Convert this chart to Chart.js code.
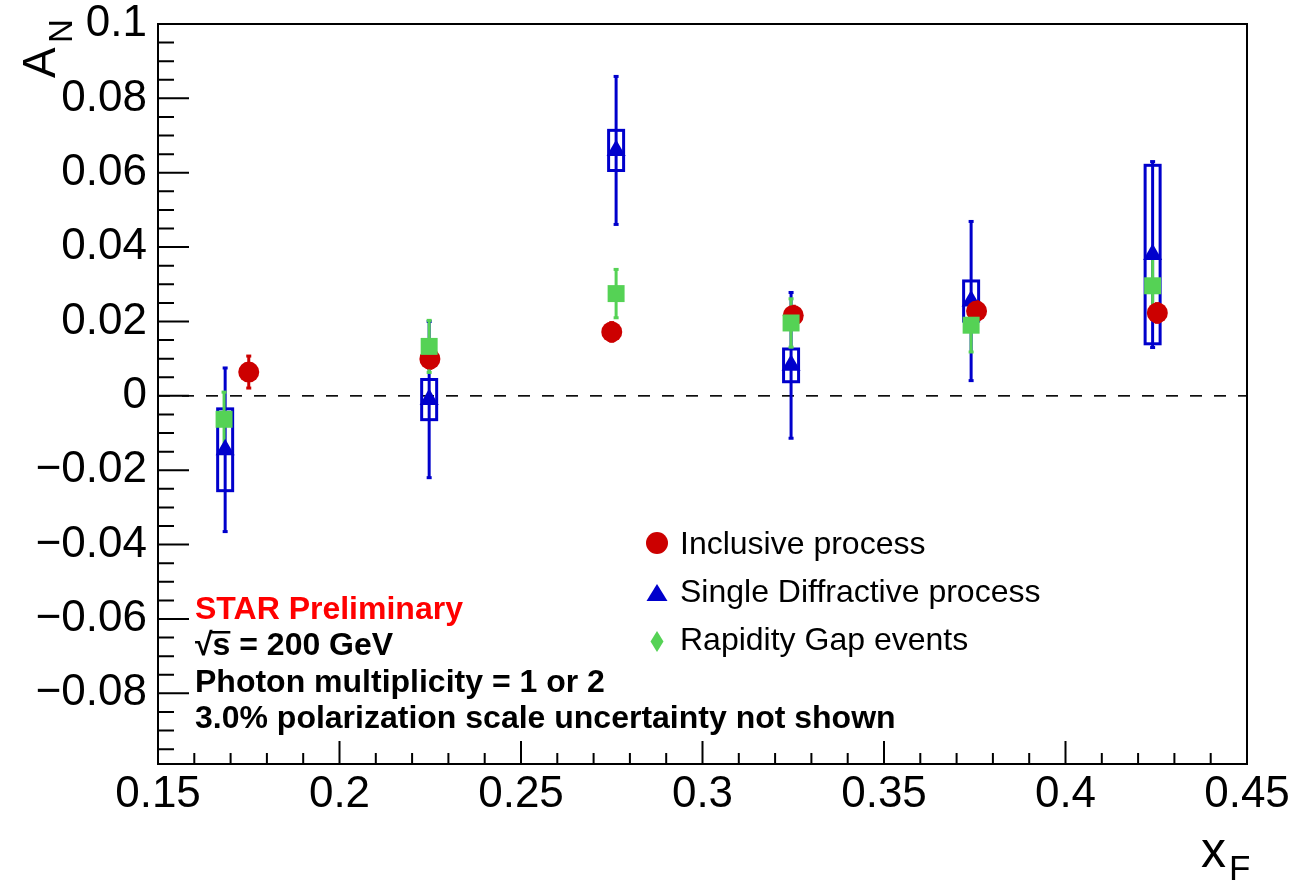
<!DOCTYPE html>
<html>
<head>
<meta charset="utf-8">
<script src="https://cdn.jsdelivr.net/npm/chart.js@4.4.0/dist/chart.umd.min.js"></script>
<style>
  html, body { margin: 0; padding: 0; background: #fff; }
</style>
</head>
<body>
<canvas id="chart" width="1297" height="881"></canvas>
<script>
// axis ticks
const xTicks = [0.15, 0.2, 0.25, 0.3, 0.35, 0.4, 0.45];
const yTicks = [-0.08, -0.06, -0.04, -0.02, 0, 0.02, 0.04, 0.06, 0.08, 0.1];

// Inclusive process (red circles)
const incX = [0.175, 0.2249, 0.275, 0.325, 0.3755, 0.4253];
const incY = [0.0064, 0.0099, 0.0172, 0.0216, 0.0228, 0.0223];
const incErr = [0.0043, 0.0025, 0.0025, 0.0025, 0.0025, 0.0025];

// Single Diffractive process (blue triangles, stat bars + sys boxes)
const sdX = [0.1685, 0.2247, 0.2762, 0.3244, 0.374, 0.424];
const sdY = [-0.0145, -0.001, 0.066, 0.0082, 0.0255, 0.038];
const sdStat = [0.022, 0.021, 0.0199, 0.0196, 0.0214, 0.025];
const sdSys = [0.011, 0.0054, 0.0054, 0.0044, 0.0054, 0.024];

// Rapidity Gap events (green)
const rgX = [0.1682, 0.2247, 0.2762, 0.3244, 0.374, 0.424];
const rgY = [-0.0063, 0.0133, 0.0275, 0.0196, 0.019, 0.0296];
const rgErr = [0.0073, 0.007, 0.0065, 0.0065, 0.0072, 0.0077];

const RED = '#cc0000';
const BLUE = '#0000cc';
const GREEN = '#55d255';
const FONT = '"Liberation Sans", Arial, Helvetica, sans-serif';

function pts(xs, ys) {
  return xs.map((x, i) => ({ x: x, y: ys[i] }));
}

function fmt(v) {
  const s = String(Math.round(v * 1000) / 1000);
  return s.replace('-', '\u2212');
}

// error bars drawn through the chart scales
function drawBars(ctx, xs, ys, errs, color, sx, sy) {
  ctx.save();
  ctx.strokeStyle = color;
  ctx.fillStyle = color;
  ctx.lineWidth = 3;
  xs.forEach((x, i) => {
    const px = sx.getPixelForValue(x);
    const top = sy.getPixelForValue(ys[i] + errs[i]);
    const bot = sy.getPixelForValue(ys[i] - errs[i]);
    ctx.beginPath();
    ctx.moveTo(px, top);
    ctx.lineTo(px, bot);
    ctx.stroke();
    ctx.fillRect(px - 2.5, top - 1.5, 5, 3);
    ctx.fillRect(px - 2.5, bot - 1.5, 5, 3);
  });
  ctx.restore();
}

function drawBoxes(ctx, xs, ys, errs, color, sx, sy) {
  ctx.save();
  ctx.strokeStyle = color;
  ctx.lineWidth = 3;
  xs.forEach((x, i) => {
    const px = sx.getPixelForValue(x);
    const top = sy.getPixelForValue(ys[i] + errs[i]);
    const bot = sy.getPixelForValue(ys[i] - errs[i]);
    ctx.strokeRect(px - 7.5, top, 15, bot - top);
  });
  ctx.restore();
}

const rootStyle = {
  id: 'rootStyle',
  beforeDatasetsDraw(chart) {
    const ctx = chart.ctx;
    const a = chart.chartArea;
    const sx = chart.scales.x, sy = chart.scales.y;

    // dashed zero line
    ctx.save();
    ctx.strokeStyle = '#000';
    ctx.lineWidth = 1.6;
    ctx.setLineDash([12, 12]);
    const y0 = sy.getPixelForValue(0);
    ctx.beginPath();
    ctx.moveTo(a.left, y0);
    ctx.lineTo(a.right, y0);
    ctx.stroke();
    ctx.restore();

    drawBoxes(ctx, sdX, sdY, sdSys, BLUE, sx, sy);
    drawBars(ctx, sdX, sdY, sdStat, BLUE, sx, sy);
    drawBars(ctx, incX, incY, incErr, RED, sx, sy);
    drawBars(ctx, rgX, rgY, rgErr, GREEN, sx, sy);
  },
  afterDatasetsDraw(chart) {
    const ctx = chart.ctx;
    const a = chart.chartArea;
    const sx = chart.scales.x, sy = chart.scales.y;

    ctx.save();
    ctx.strokeStyle = '#000';
    ctx.lineWidth = 2;
    ctx.strokeRect(a.left, a.top, a.right - a.left, a.bottom - a.top);

    // y ticks (inside, on the left): major 0.02, minor 0.005
    ctx.beginPath();
    for (let k = -19; k <= 20; k++) {
      const v = k * 0.005;
      const py = sy.getPixelForValue(v);
      const len = (k % 4 === 0) ? 31 : 16;
      ctx.moveTo(a.left, py);
      ctx.lineTo(a.left + len, py);
    }
    // x ticks (inside, on the bottom): major 0.05, minor 0.01
    for (let k = 15; k <= 45; k++) {
      const v = k * 0.01;
      const px = sx.getPixelForValue(v);
      const len = (k % 5 === 0) ? 23 : 11;
      ctx.moveTo(px, a.bottom);
      ctx.lineTo(px, a.bottom - len);
    }
    ctx.stroke();

    // axis titles
    ctx.fillStyle = '#000';
    ctx.textAlign = 'left';
    ctx.textBaseline = 'alphabetic';
    ctx.save();
    ctx.translate(55, 78);
    ctx.rotate(-Math.PI / 2);
    ctx.font = '46px ' + FONT;
    ctx.fillText('A', 0, 0);
    ctx.font = '33px ' + FONT;
    ctx.fillText('N', 35, 17);
    ctx.restore();

    ctx.font = '50px ' + FONT;
    ctx.fillText('x', 1201, 867);
    ctx.font = '35px ' + FONT;
    ctx.fillText('F', 1229, 880);

    // annotation text
    ctx.font = 'bold 32px ' + FONT;
    ctx.fillStyle = '#ff0000';
    ctx.fillText('STAR Preliminary', 195, 619);
    ctx.fillStyle = '#000';
    ctx.fillText('\u221As = 200 GeV', 195, 655);
    const wr = ctx.measureText('\u221A').width;
    const ws = ctx.measureText('s').width;
    ctx.fillRect(195 + wr - 2, 631, ws + 2, 2.5);
    ctx.fillText('Photon multiplicity = 1 or 2', 195, 692);
    ctx.fillText('3.0% polarization scale uncertainty not shown', 195, 728);

    // legend
    ctx.font = '32px ' + FONT;
    ctx.fillText('Inclusive process', 680, 554);
    ctx.fillText('Single Diffractive process', 680, 602);
    ctx.fillText('Rapidity Gap events', 680, 650);

    ctx.fillStyle = RED;
    ctx.beginPath();
    ctx.arc(657, 543, 11, 0, Math.PI * 2);
    ctx.fill();

    ctx.fillStyle = BLUE;
    ctx.beginPath();
    ctx.moveTo(657, 584);
    ctx.lineTo(667.5, 601);
    ctx.lineTo(646.5, 601);
    ctx.closePath();
    ctx.fill();

    ctx.fillStyle = GREEN;
    ctx.beginPath();
    ctx.moveTo(657, 631);
    ctx.lineTo(663.5, 641.5);
    ctx.lineTo(657, 652);
    ctx.lineTo(650.5, 641.5);
    ctx.closePath();
    ctx.fill();

    ctx.restore();
  }
};

const tickFont = { family: FONT, size: 44, lineHeight: 1 };

new Chart(document.getElementById('chart'), {
  type: 'scatter',
  data: {
    datasets: [
      {
        label: 'Rapidity Gap events',
        data: pts(rgX, rgY),
        pointStyle: 'rect',
        pointRadius: 12,
        backgroundColor: GREEN,
        borderColor: GREEN,
        borderWidth: 0,
        order: 1
      },
      {
        label: 'Inclusive process',
        data: pts(incX, incY),
        pointStyle: 'circle',
        pointRadius: 10.5,
        backgroundColor: RED,
        borderColor: RED,
        borderWidth: 0,
        order: 2
      },
      {
        label: 'Single Diffractive process',
        data: pts(sdX, sdY),
        pointStyle: 'triangle',
        pointRadius: 11,
        backgroundColor: BLUE,
        borderColor: BLUE,
        borderWidth: 0,
        order: 3
      }
    ]
  },
  options: {
    responsive: false,
    animation: false,
    events: [],
    layout: { padding: { top: 24, right: 50, left: 0, bottom: 0 } },
    plugins: {
      legend: { display: false },
      tooltip: { enabled: false }
    },
    scales: {
      x: {
        type: 'linear',
        min: 0.15,
        max: 0.45,
        afterBuildTicks: s => { s.ticks = xTicks.map(v => ({ value: v })); },
        afterFit: s => { s.height = 117; s.paddingLeft = 0; s.paddingRight = 0; },
        grid: { display: false, drawTicks: false },
        border: { display: false },
        ticks: { color: '#000', font: tickFont, padding: 9, maxRotation: 0, autoSkip: false, callback: v => fmt(v) }
      },
      y: {
        type: 'linear',
        min: -0.099,
        max: 0.1,
        afterBuildTicks: s => { s.ticks = yTicks.map(v => ({ value: v })); },
        afterFit: s => { s.width = 158; s.paddingTop = 0; s.paddingBottom = 0; },
        grid: { display: false, drawTicks: false },
        border: { display: false },
        ticks: { color: '#000', font: tickFont, padding: 11, autoSkip: false, callback: v => fmt(v) }
      }
    }
  },
  plugins: [rootStyle]
});
</script>
</body>
</html>
